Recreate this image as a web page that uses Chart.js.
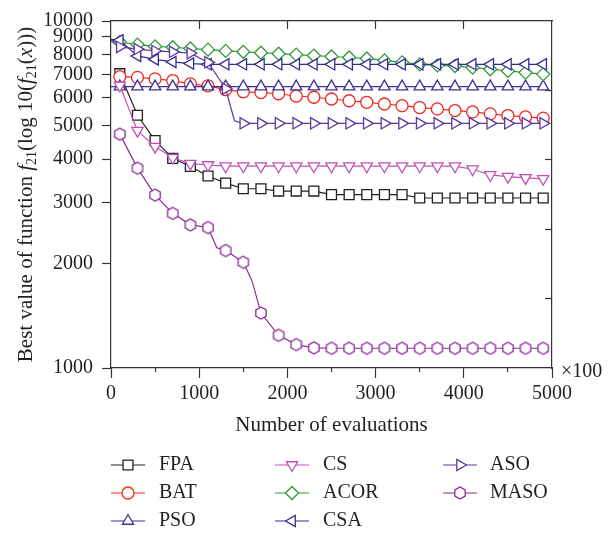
<!DOCTYPE html>
<html lang="en">
  <head>
    <meta charset="UTF-8" />
    <title>Best value of function f21</title>
    <style>
      body { margin: 0; background: #fff; }
    </style>
  </head>
  <body>
    <canvas id="myChart" width="616" height="534"></canvas>

    <script src="https://cdn.jsdelivr.net/npm/chart.js"></script>

    <script>
      // number of evaluations (x100), one entry every 100
      const evals = [
        0, 100, 200, 300, 400, 500, 600, 700, 800, 900,
        1000, 1100, 1200, 1300, 1400, 1500, 1600, 1700, 1800, 1900,
        2000, 2100, 2200, 2300, 2400, 2500, 2600, 2700, 2800, 2900,
        3000, 3100, 3200, 3300, 3400, 3500, 3600, 3700, 3800, 3900,
        4000, 4100, 4200, 4300, 4400, 4500, 4600, 4700, 4800, 4900,
      ];

      // (null = nothing visible there)
      const fpa = [
        null, 7050, null, 5350, null, 4520, null, 4020, null, 3810,
        null, 3575, null, 3410, null, 3285, null, 3285, null, 3235,
        null, 3235, null, 3235, null, 3160, null, 3160, null, 3160,
        null, 3160, null, 3160, null, 3090, null, 3090, null, 3090,
        null, 3090, null, 3090, null, 3090, null, 3090, null, 3090,
      ];
      const bat = [
        null, 6910, null, 6880, null, 6810, null, 6730, null, 6590,
        null, 6500, null, 6340, null, 6250, null, 6220, null, 6170,
        null, 6080, null, 6030, null, 5960, null, 5890, null, 5830,
        null, 5765, null, 5700, null, 5630, null, 5580, null, 5520,
        null, 5470, null, 5400, null, 5340, null, 5290, null, 5250,
      ];
      const pso = [
        6470, 6470, null, 6470, null, 6470, null, 6470, null, 6470,
        null, 6470, null, 6470, null, 6470, null, 6470, null, 6470,
        null, 6470, null, 6470, null, 6470, null, 6470, null, 6470,
        null, 6470, null, 6470, null, 6470, null, 6470, null, 6470,
        null, 6470, null, 6470, null, 6470, null, 6470, null, 6470,
      ];
      const cs = [
        null, 6520, null, 4830, null, 4345, null, 4035, null, 3880,
        null, 3846, null, 3815, null, 3815, null, 3815, null, 3815,
        null, 3815, null, 3815, null, 3815, null, 3815, null, 3815,
        null, 3815, null, 3815, null, 3815, null, 3815, null, 3815,
        null, 3740, null, 3600, null, 3560, null, 3530, null, 3510,
      ];
      const acor = [
        8800, 8700, null, 8550, null, 8450, null, 8400, null, 8330,
        null, 8270, null, 8200, null, 8150, null, 8100, null, 8050,
        null, 8000, null, 7950, null, 7900, null, 7850, null, 7800,
        null, 7700, null, 7600, null, 7500, null, 7450, null, 7420,
        null, 7340, null, 7260, null, 7180, null, 7100, null, 7030,
      ];
      const csa = [
        8850, 8800, null, 7930, null, 7750, null, 7620, null, 7540,
        null, 7500, null, 7500, null, 7500, null, 7500, null, 7500,
        null, 7500, null, 7500, null, 7500, null, 7500, null, 7500,
        null, 7500, null, 7500, null, 7500, null, 7500, null, 7500,
        null, 7500, null, 7500, null, 7500, null, 7500, null, 7500,
      ];
      const aso = [
        8750, 8420, null, 8300, null, 8200, null, 8150, null, 8080,
        null, 7600, null, 6380, 5160, 5070, null, 5070, null, 5070,
        null, 5070, null, 5070, null, 5070, null, 5070, null, 5070,
        null, 5070, null, 5070, null, 5070, null, 5070, null, 5070,
        null, 5070, null, 5070, null, 5070, null, 5070, null, 5070,
      ];
      const maso = [
        null, 4720, null, 3767, null, 3150, null, 2790, null, 2585,
        null, 2540, 2220, 2180, null, 2017, 1780, 1440, null, 1242,
        null, 1168, null, 1143, null, 1140, null, 1140, null, 1140,
        null, 1140, null, 1140, null, 1140, null, 1140, null, 1140,
        null, 1140, null, 1140, null, 1140, null, 1140, null, 1140,
      ];

      const names = ["FPA", "BAT", "PSO", "CS", "ACOR", "CSA", "ASO", "MASO"];
      const series = [fpa, bat, pso, cs, acor, csa, aso, maso];

      const xTicks = [0, 1000, 2000, 3000, 4000, 5000];
      const xMinorTicks = [500, 1500, 2500, 3500, 4500];
      const xTopTicks = [1000, 2000, 3000, 4000];
      const yTicks = [1000, 2000, 3000, 4000, 5000, 6000, 7000, 8000, 9000, 10000];
      const yRightTicks = [1585, 2512, 3981, 6310];

      const colors = ["#231f20", "#ee2b22", "#3a3396", "#c250b2", "#2f9a36", "#312d93", "#5d3a9f", "#8a2b98"];
      const rotations = [0, 0, 0, 180, 0, -90, 90, 0];
      const radii = [7, 6, 6.5, 6.5, 6.5, 6.5, 6.5, 6];

      const textColor = "#231f20";
      const axisColor = "#333333";
      const family = "'Liberation Serif', 'Times New Roman', serif";

      function hexagon(color, r) {
        const c = document.createElement("canvas");
        const s = Math.ceil(2 * r + 4);
        c.width = s;
        c.height = s;
        const g = c.getContext("2d");
        g.beginPath();
        for (let k = 0; k < 6; k++) {
          const a = Math.PI / 2 + (k * Math.PI) / 3;
          const px = s / 2 + r * Math.cos(a);
          const py = s / 2 + r * Math.sin(a);
          if (k === 0) g.moveTo(px, py);
          else g.lineTo(px, py);
        }
        g.closePath();
        g.fillStyle = "#fff";
        g.fill();
        g.strokeStyle = color;
        g.lineWidth = 1.3;
        g.stroke();
        return c;
      }

      const styles = ["rect", "circle", "triangle", "triangle", "rectRot", "triangle", "triangle", hexagon(colors[7], 6)];

      // y title with italics / subscripts, x100 mark, legend
      const extraText = {
        id: "extraText",
        afterDraw(chart) {
          const ctx = chart.ctx;
          const area = chart.chartArea;

          const normal = "21px " + family;
          const italic = "italic 21px " + family;
          const sub = "14px " + family;
          const parts = [
            ["Best value of function ", normal, 0],
            ["f", italic, 0],
            ["21", sub, 4],
            ["(log 10(", normal, 0],
            ["f", italic, 0],
            ["21", sub, 4],
            ["(", normal, 0],
            ["x", italic, 0],
            [")))", normal, 0],
          ];
          ctx.save();
          let total = 0;
          parts.forEach((p) => {
            ctx.font = p[1];
            total += ctx.measureText(p[0]).width;
          });
          ctx.translate(32, (area.top + area.bottom) / 2);
          ctx.rotate(-Math.PI / 2);
          ctx.fillStyle = textColor;
          ctx.textAlign = "left";
          ctx.textBaseline = "alphabetic";
          let px = -total / 2;
          parts.forEach((p) => {
            ctx.font = p[1];
            ctx.fillText(p[0], px, p[2]);
            px += ctx.measureText(p[0]).width;
          });
          ctx.restore();

          ctx.save();
          ctx.fillStyle = textColor;
          ctx.font = "20px " + family;
          ctx.textAlign = "left";
          ctx.textBaseline = "middle";
          ctx.fillText("×100", area.right + 9, area.bottom + 4);
          ctx.restore();

          // legend, 3 columns
          const lineX = [111, 275, 443];
          const textX = [159, 323, 490];
          const rowY = [465, 493, 521];
          ctx.save();
          chart.data.datasets.forEach((ds, i) => {
            const col = Math.floor(i / 3);
            const y0 = rowY[i % 3];
            const x0 = lineX[col];
            ctx.strokeStyle = ds.borderColor;
            ctx.lineWidth = 1.2;
            ctx.beginPath();
            ctx.moveTo(x0, y0);
            ctx.lineTo(x0 + 34, y0);
            ctx.stroke();
            ctx.fillStyle = "#fff";
            ctx.lineWidth = 1.3;
            Chart.helpers.drawPoint(
              ctx,
              { pointStyle: ds.pointStyle, rotation: ds.pointRotation, radius: radii[i], borderWidth: 1.3 },
              x0 + 17,
              y0
            );
            ctx.fillStyle = textColor;
            ctx.font = "20px " + family;
            ctx.textAlign = "left";
            ctx.textBaseline = "middle";
            ctx.fillText(ds.label, textX[col], y0);
          });
          ctx.restore();
        },
      };

      const tickFont = { family: family, size: 20 };

      const ctx1 = document.getElementById("myChart");

      const chart1 = new Chart(ctx1, {
        type: "line",
        data: {
          datasets: names.map((name, i) => ({
            label: name,
            data: series[i].map((v, k) => ({ x: evals[k], y: v })),
            borderColor: colors[i],
            borderWidth: 1.2,
            tension: 0,
            spanGaps: true,
            order: names.length - i,
            pointStyle: styles[i],
            pointRotation: rotations[i],
            pointBackgroundColor: "#fff",
            pointBorderColor: colors[i],
            pointBorderWidth: 1.3,
            pointRadius: (c) => (evals[c.dataIndex] % 200 === 100 ? radii[i] : 0),
            pointHoverRadius: (c) => (evals[c.dataIndex] % 200 === 100 ? radii[i] : 0),
          })),
        },
        options: {
          responsive: false,
          animation: false,
          devicePixelRatio: 1,
          layout: { padding: { left: 0, top: 17, right: 64, bottom: 96 } },
          plugins: {
            legend: { display: false },
            tooltip: { enabled: false },
          },
          scales: {
            x: {
              type: "linear",
              position: "bottom",
              weight: 1,
              min: 0,
              max: 5000,
              afterBuildTicks: (s) => {
                s.ticks = xTicks.map((v) => ({ value: v }));
              },
              afterFit: (s) => {
                s.height = 70;
              },
              ticks: {
                font: tickFont,
                color: textColor,
                padding: 4,
                maxRotation: 0,
                autoSkip: false,
                callback: (v) => String(v),
              },
              grid: { drawOnChartArea: false, tickLength: 10, tickColor: axisColor, tickWidth: 1.2 },
              border: { color: axisColor, width: 1.2 },
              title: {
                display: true,
                text: "Number of evaluations",
                font: { family: family, size: 21 },
                color: textColor,
                padding: { top: 0, bottom: 0 },
              },
            },
            xMinor: {
              type: "linear",
              position: "bottom",
              weight: 0,
              min: 0,
              max: 5000,
              afterBuildTicks: (s) => {
                s.ticks = xMinorTicks.map((v) => ({ value: v }));
              },
              afterFit: (s) => {
                s.height = 0;
              },
              ticks: { display: false },
              grid: { drawOnChartArea: false, tickLength: 4, tickColor: axisColor, tickWidth: 1.2 },
              border: { display: false },
            },
            xTop: {
              type: "linear",
              position: "top",
              min: 0,
              max: 5000,
              afterBuildTicks: (s) => {
                s.ticks = xTopTicks.map((v) => ({ value: v }));
              },
              afterFit: (s) => {
                s.height = 0;
              },
              ticks: { display: false },
              grid: { drawOnChartArea: false, tickLength: -8, tickColor: axisColor, tickWidth: 1.2 },
              border: { color: axisColor, width: 1.2 },
            },
            y: {
              type: "logarithmic",
              position: "left",
              min: 1000,
              max: 10000,
              afterBuildTicks: (s) => {
                s.ticks = yTicks.map((v) => ({ value: v }));
              },
              afterFit: (s) => {
                s.width = 111;
              },
              ticks: {
                font: tickFont,
                color: textColor,
                padding: 9,
                autoSkip: false,
                callback: (v) => String(v),
              },
              grid: { drawOnChartArea: false, tickLength: 9, tickColor: axisColor, tickWidth: 1.2 },
              border: { color: axisColor, width: 1.2 },
            },
            yRight: {
              type: "logarithmic",
              position: "right",
              min: 1000,
              max: 10000,
              afterBuildTicks: (s) => {
                s.ticks = yRightTicks.map((v) => ({ value: v }));
              },
              afterFit: (s) => {
                s.width = 0;
              },
              ticks: { display: false },
              grid: { drawOnChartArea: false, tickLength: -7, tickColor: axisColor, tickWidth: 1.2 },
              border: { color: axisColor, width: 1.2 },
            },
          },
        },
        plugins: [extraText],
      });
    </script>
  </body>
</html>
